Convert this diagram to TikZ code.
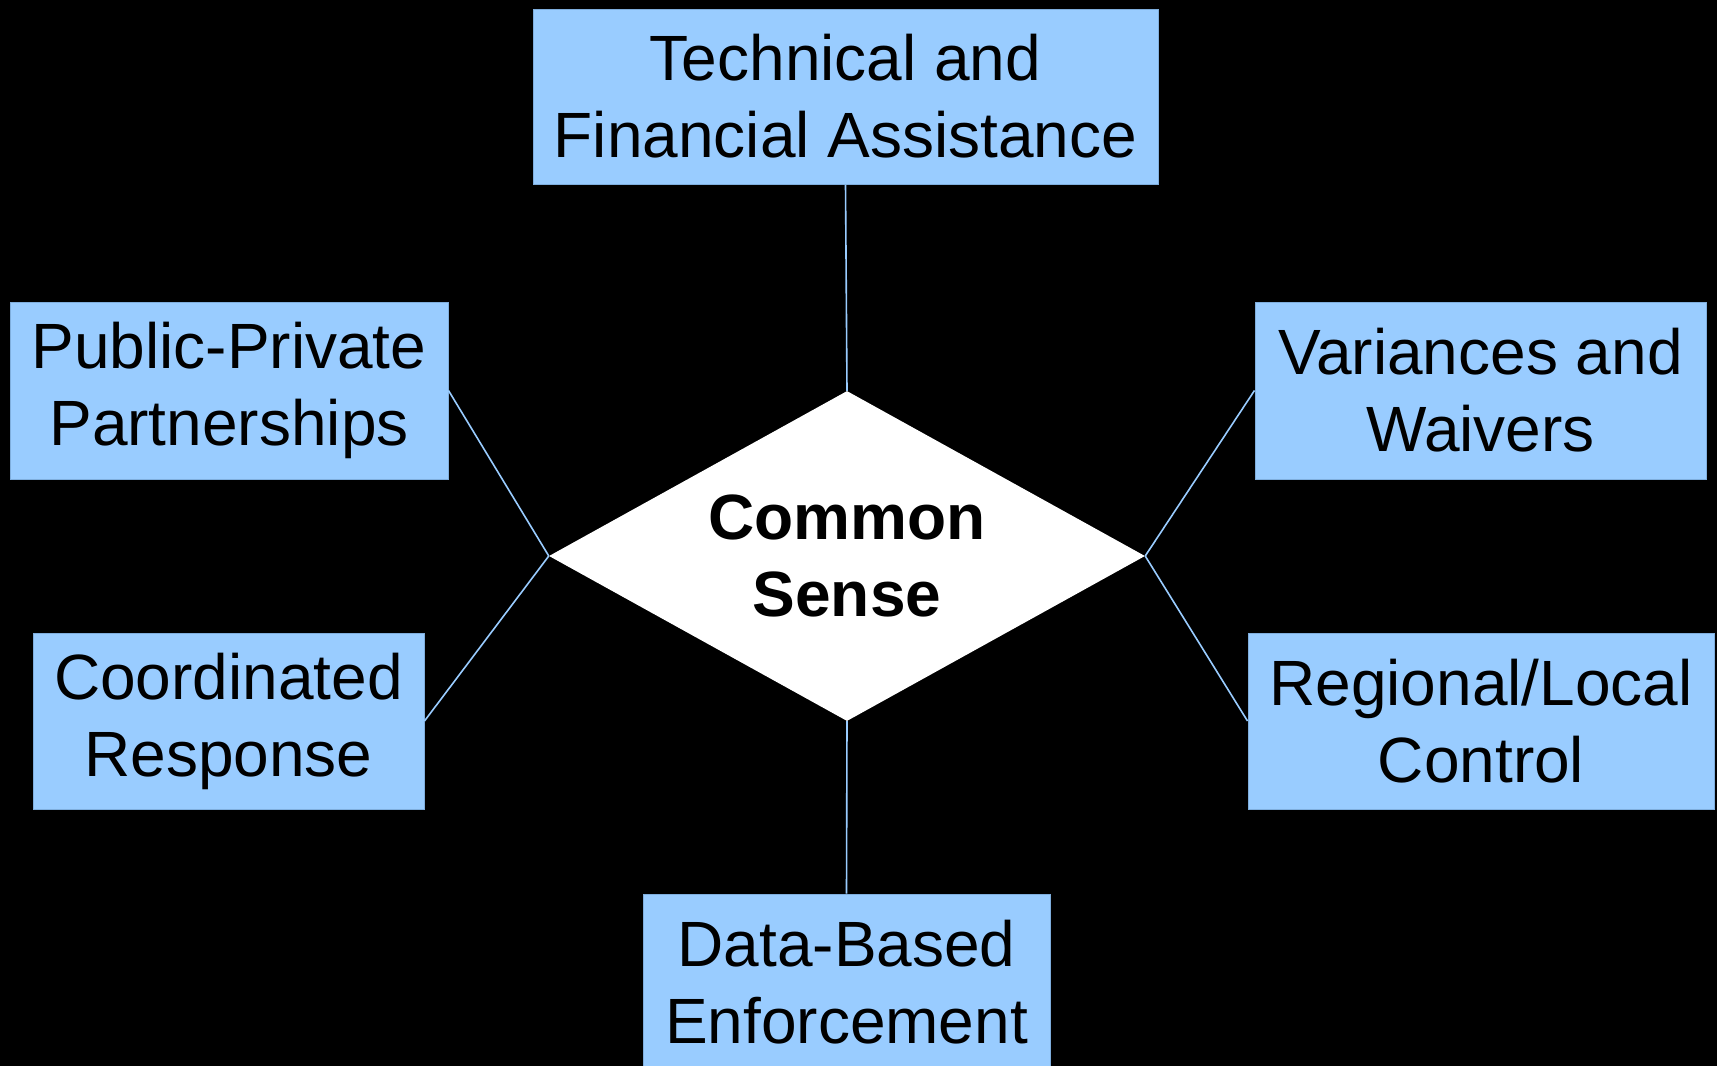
\documentclass[tikz,border=0pt]{standalone}
\usepackage{fontspec}
\setmainfont{Liberation Sans}
\usetikzlibrary{shapes.geometric, positioning}

\definecolor{boxfill}{HTML}{99CCFF}
\definecolor{boxedge}{HTML}{7FAEDD}
\definecolor{linkline}{HTML}{99CCFF}

\tikzset{
  pillar/.style={draw=boxedge, fill=boxfill, line width=1pt, inner sep=0pt,
    align=center, font=\fontsize{64}{77}\selectfont},
  core/.style={diamond, aspect=2, fill=white, inner sep=0pt,
    minimum width=596pt, minimum height=330pt, align=center,
    font=\bfseries\fontsize{64}{77}\selectfont},
  link/.style={draw=linkline, line width=1.6pt}
}

\begin{document}
\begin{tikzpicture}[x=1pt, y=-1pt]

        % Background
        \fill[black] (0,0) rectangle (1717,1066);
        \useasboundingbox (0,0) rectangle (1717,1066);

        % Centre
        \node[core] (sense) at (847,556) {Common\\Sense};

        % Top
        \node[pillar, minimum width=625pt, minimum height=175pt] (assist) at (845.5,96.5) {Technical and\\Financial Assistance};
        \draw[link] (assist.south) -- (sense.north);

        % Upper left
        \node[pillar, minimum width=438pt, minimum height=177pt] (partner) at (229,390.5) {Public-Private\\Partnerships};
        \draw[link] (partner.east) -- (sense.west);

        % Lower left
        \node[pillar, minimum width=391pt, minimum height=176pt] (respond) at (228.5,721) {Coordinated\\Response};
        \draw[link] (respond.east) -- (sense.west);

        % Upper right
        \node[pillar, minimum width=451pt, minimum height=177pt] (waiver) at (1480.5,390.5) {Variances and\\Waivers};
        \draw[link] (waiver.west) -- (sense.east);

        % Lower right
        \node[pillar, minimum width=466pt, minimum height=176pt] (control) at (1481,721) {Regional/Local\\Control};
        \draw[link] (control.west) -- (sense.east);

        % Bottom
        \node[pillar, minimum width=407pt, minimum height=176pt] (enforce) at (846.5,982) {Data-Based\\Enforcement};
        \draw[link] (enforce.north) -- (sense.south);

    \end{tikzpicture}
\end{document}
